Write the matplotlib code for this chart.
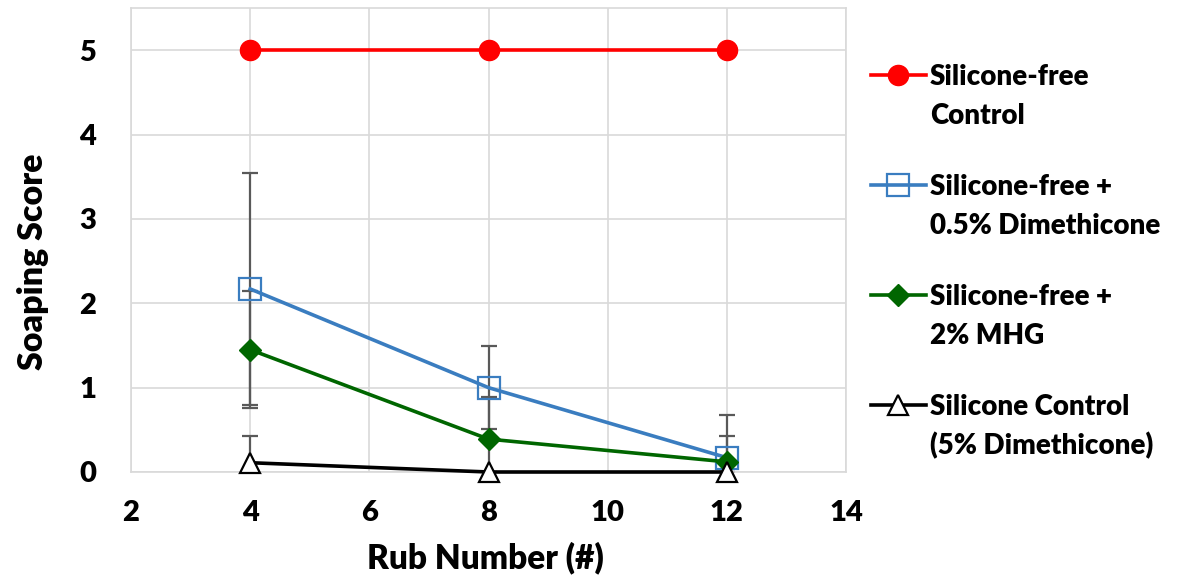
import matplotlib
matplotlib.use("Agg")
import matplotlib.pyplot as plt
from matplotlib.lines import Line2D

plt.rcParams['font.family'] = ['Lato', 'DejaVu Sans']
plt.rcParams['font.weight'] = 'heavy'

rub = [4, 8, 12]
control_free = [5, 5, 5]
control_free_err = [0, 0, 0]
dimethicone_05 = [2.17, 1.0, 0.17]
dimethicone_05_err = [1.38, 0.49, 0.5]
mhg_2 = [1.45, 0.39, 0.12]
mhg_2_err = [0.69, 0.5, 0.31]
silicone_ctrl = [0.11, 0.0, 0.0]
silicone_ctrl_err = [0.32, 0.0, 0.0]

labels = [("Silicone-free", "Control"), ("Silicone-free +", "0.5% Dimethicone"),
          ("Silicone-free +", "2% MHG"), ("Silicone Control", "(5% Dimethicone)")]
xticks = [2, 4, 6, 8, 10, 12, 14]
yticks = [0, 1, 2, 3, 4, 5]

W, H = 1189, 581
fig = plt.figure(figsize=(W / 100, H / 100), dpi=100)
ax = fig.add_axes([131/W, 1-472/H, (846-131)/W, (472-8)/H])

err_color = '#595959'
series = [
    (control_free, control_free_err, dict(color='#ff0000', marker='o', markersize=14.5,
                                          markerfacecolor='#ff0000', markeredgecolor='#ff0000')),
    (dimethicone_05, dimethicone_05_err, dict(color='#3a7dc0', marker='s', markersize=15.5,
                                              markerfacecolor='none', markeredgecolor='#3a7dc0', markeredgewidth=1.6)),
    (mhg_2, mhg_2_err, dict(color='#006600', marker='D', markersize=11.5,
                            markerfacecolor='#006600', markeredgecolor='#006600')),
    (silicone_ctrl, silicone_ctrl_err, dict(color='#000000', marker='^', markersize=15,
                                            markerfacecolor='white', markeredgecolor='#000000', markeredgewidth=1.6)),
]

for vals, errs, st in series:
    ax.errorbar(rub, vals, yerr=errs, fmt='none', ecolor=err_color, elinewidth=1.6,
                capsize=5.5, capthick=1.6, zorder=2)
for vals, errs, st in series:
    ax.plot(rub, vals, linewidth=2.6, zorder=3, clip_on=False, **st)

ax.set_xlim(2, 14)
ax.set_ylim(0, 5.5)
ax.set_xticks(xticks)
ax.set_yticks(yticks)
ax.grid(True, color='#d9d9d9', linewidth=1.2)
ax.set_axisbelow(True)
for s in ax.spines.values():
    s.set_color('#d9d9d9')
    s.set_linewidth(1.2)
ax.tick_params(axis='y', length=0, labelsize=21, pad=25)
ax.tick_params(axis='x', length=0, labelsize=21, pad=20)
for t in ax.get_xticklabels() + ax.get_yticklabels():
    t.set_fontweight('heavy')
ax.set_xlabel("Rub Number (#)", fontsize=24, fontweight='heavy')
ax.set_ylabel("Soaping Score", fontsize=24.5, fontweight='heavy')
ax.xaxis.set_label_coords((485 - 131) / 715, -(558 - 472) / 464)
ax.xaxis.label.set_va('center')
ax.yaxis.set_label_coords(-(131 - 33) / 715, (472 - 262) / 464)
ax.yaxis.label.set_va('center')

# Manual legend (outside right)
y_rows = [75, 185, 295, 405]
for (vals, errs, st), (l1, l2), yp in zip(series, labels, y_rows):
    yf = 1 - yp / H
    fig.add_artist(Line2D([871/W, 926/W], [yf, yf], transform=fig.transFigure,
                          color=st['color'], linewidth=2.6))
    fig.add_artist(Line2D([898/W], [yf], transform=fig.transFigure,
                          **{**st, 'linestyle': 'none'}))
    fig.text(930/W, 1 - (yp + 10) / H, l1, fontsize=20, fontweight='heavy',
             va='baseline', ha='left')
    fig.text(930/W, 1 - (yp + 49) / H, l2, fontsize=20, fontweight='heavy',
             va='baseline', ha='left')

fig.savefig("out.png", dpi=100)
